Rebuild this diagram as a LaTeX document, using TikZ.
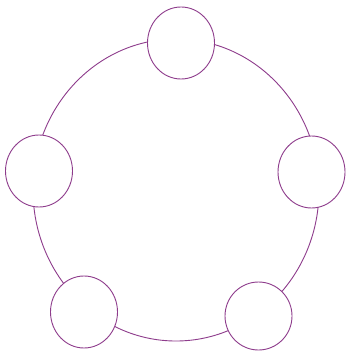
\documentclass[tikz,border=0pt]{standalone}
\usetikzlibrary{shapes.geometric}
\definecolor{ringcol}{RGB}{142,60,140}
\begin{document}
\begin{tikzpicture}[x=1pt,y=-1pt,
  ringline/.style={draw=ringcol,line width=0.9pt},
  seat/.style={ellipse,ringline,fill=white,inner sep=0pt,minimum width=67pt,minimum height=72pt}]
\useasboundingbox[fill=white] (0,0) rectangle (346,352);
\coordinate (c) at (176,190);
\draw[ringline] (c) ellipse [x radius=143pt,y radius=151pt];
\node[seat] (top) at (181,43) {};
\node[seat] (left) at (39,171) {};
\node[seat] (right) at (311.5,172) {};
\node[seat] (bl) at (84,312) {};
\node[seat,minimum height=68pt] (br) at (258.5,316) {};
\end{tikzpicture}
\end{document}
